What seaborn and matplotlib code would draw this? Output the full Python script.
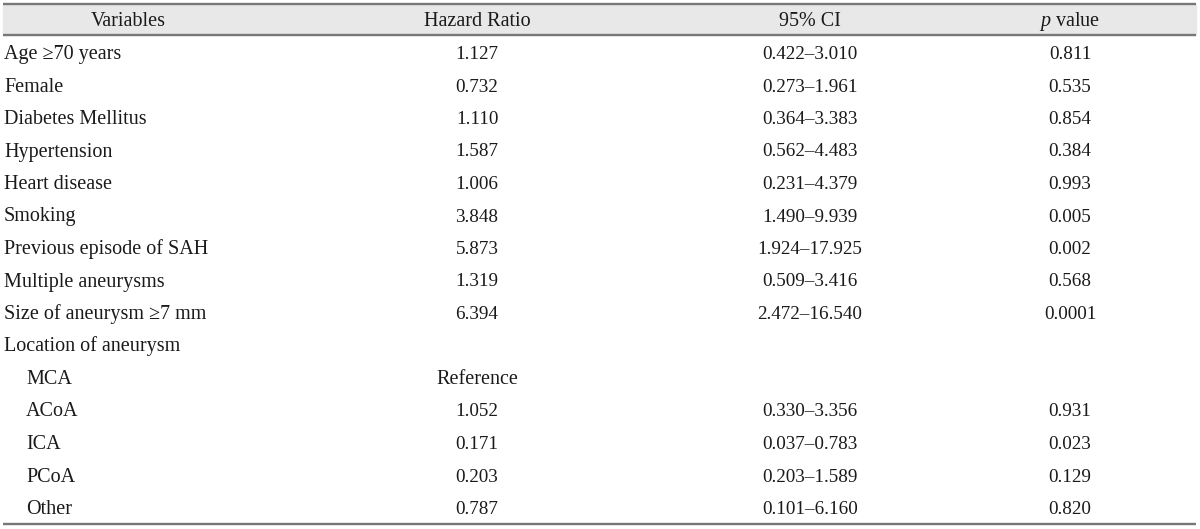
import matplotlib
matplotlib.use("Agg")
import matplotlib.pyplot as plt
import seaborn as sns
import pandas as pd

# Datos de la tabla
variables = [
    "Age ≥70 years", "Female", "Diabetes Mellitus", "Hypertension",
    "Heart disease", "Smoking", "Previous episode of SAH",
    "Multiple aneurysms", "Size of aneurysm ≥7 mm", "Location of aneurysm",
    "MCA", "ACoA", "ICA", "PCoA", "Other",
]
indentado = [False] * 10 + [True] * 5
hazard_ratio = ["1.127", "0.732", "1.110", "1.587", "1.006", "3.848", "5.873",
                "1.319", "6.394", "", "Reference", "1.052", "0.171", "0.203", "0.787"]
ic_95 = ["0.422–3.010", "0.273–1.961", "0.364–3.383", "0.562–4.483",
         "0.231–4.379", "1.490–9.939", "1.924–17.925", "0.509–3.416",
         "2.472–16.540", "", "", "0.330–3.356", "0.037–0.783",
         "0.203–1.589", "0.101–6.160"]
p_valor = ["0.811", "0.535", "0.854", "0.384", "0.993", "0.005", "0.002",
           "0.568", "0.0001", "", "", "0.931", "0.023", "0.129", "0.820"]
encabezados = ["Variables", "Hazard Ratio", "95% CI", r"$\it{p}$ value"]

df = pd.DataFrame({"var": variables, "hr": hazard_ratio, "ci": ic_95, "p": p_valor})

sns.set_theme(style="white")
plt.rcParams["font.family"] = ["Liberation Serif", "DejaVu Serif"]
plt.rcParams["mathtext.fontset"] = "custom"
plt.rcParams["mathtext.it"] = "Liberation Serif:italic"
plt.rcParams["mathtext.rm"] = "Liberation Serif"

fig = plt.figure(figsize=(12, 5.29), dpi=100)
ax = fig.add_axes([0, 0, 1, 1])
ax.set_xlim(0, 1200)
ax.set_ylim(529, 0)
ax.axis("off")

# Layout
fs_texto = 14.5   # palabras
fs_num = 13.8     # cifras
color_texto = "#1a1a1a"
color_linea = "#777777"
centros_col = [128, 477, 810, 1070]
base_encabezado = 26
base_fila0 = 59
paso = 32.5

def escribir(x, y, s, fs, ha="center"):
    ax.text(x, y, s, ha=ha, va="baseline", fontsize=fs, color=color_texto)

# Encabezado con fondo gris
ax.axhspan(4, 35, xmin=3 / 1200, xmax=1196 / 1200, color="#e8e8e8", zorder=0)
ax.hlines([4, 35, 524], 3, 1196, color=color_linea, lw=1.7)
for xc, h in zip(centros_col, encabezados):
    escribir(xc, base_encabezado, h, fs_texto)

# Filas
for i, fila in df.iterrows():
    y = base_fila0 + i * paso
    x_var = 26 if indentado[i] else 4
    escribir(x_var, y, fila["var"], fs_texto, ha="left")
    fs_hr = fs_texto if fila["hr"] == "Reference" else fs_num
    escribir(centros_col[1], y, fila["hr"], fs_hr)
    escribir(centros_col[2], y, fila["ci"], fs_num)
    escribir(centros_col[3], y, fila["p"], fs_num)

fig.savefig("out.png", dpi=100)
